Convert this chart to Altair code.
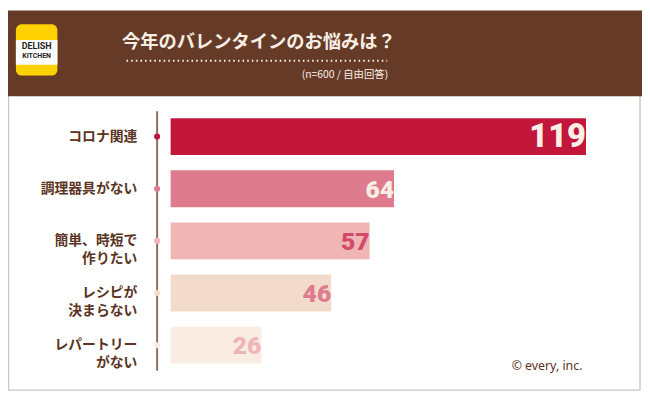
import altair as alt
import pandas as pd

# ---- data ----
categories = ["コロナ関連", "調理器具がない", "簡単、時短で作りたい", "レシピが決まらない", "レパートリーがない"]
labels = ["コロナ関連", "調理器具がない", "簡単、時短で\n作りたい", "レシピが\n決まらない", "レパートリー\nがない"]
values = [119, 64, 57, 46, 26]

title_text = "今年のバレンタインのお悩みは？"
subtitle_text = "(n=600 / 自由回答)"
credit_text = "© every, inc."

# ---- styles ----
bar_colors = ["#C2163A", "#DE7B8C", "#F0B6B6", "#F3DBCC", "#F9ECE3"]
num_colors = ["#FAEEE5", "#FAEEE5", "#D24A6A", "#DE7B8C", "#F0B3B8"]
BROWN = "#653A27"
CREAM = "#F8EEE5"
LABEL = "#5A3322"
W, H = 642, 387

df = pd.DataFrame({"cat": categories, "label": labels, "value": values})
one = pd.DataFrame({"a": [0]})

xs = alt.Scale(domain=[0, 119], range=[164.7, 585.3], nice=False)
ys = alt.Scale(domain=categories, range=[101.4, 365.4], paddingInner=0.293, paddingOuter=0.1465)
Y = alt.Y("cat:N", scale=ys, axis=None, sort=categories)

def deco_rect(x, x2, y, y2, **kw):
    return alt.Chart(one).mark_rect(**kw).encode(
        x=alt.value(x), x2=alt.value(x2), y=alt.value(y), y2=alt.value(y2))

def deco_text(txt, x, y, **kw):
    return alt.Chart(pd.DataFrame({"t": [txt]})).mark_text(**kw).encode(
        text="t:N", x=alt.value(x), y=alt.value(y))

frame = deco_rect(0.5, 640, 86, 384.5, fill="white", stroke="#CFC6BF", strokeWidth=1.5)
header = deco_rect(0, W, 0, 87, color=BROWN)
logo = deco_rect(8, 50, 14, 66, color="#FFD100", cornerRadius=6)
logo_white = deco_rect(8, 50, 30, 55, color="white")
logo_t1 = deco_text("DELISH", 29, 36.5, font="Roboto", fontWeight="bold", fontSize=9, color="#222222")
logo_t2 = deco_text("KITCHEN", 29, 46, font="Roboto", fontWeight="bold", fontSize=7, color="#222222")
title = deco_text(title_text, 254, 32, font="Noto Sans CJK JP", fontWeight="bold", fontSize=18.5, color=CREAM)
dots = alt.Chart(one).mark_rule(color=CREAM, strokeWidth=2, strokeDash=[1.6, 3.1]).encode(
    x=alt.value(120), x2=alt.value(384), y=alt.value(51))
subtitle = deco_text(subtitle_text, 385, 65, align="right", font="Noto Sans CJK JP", fontSize=10.5, color=CREAM)
credit = deco_text(credit_text, 510, 360, align="left", font="Noto Sans", fontSize=12.5, color=LABEL)

axis_line = alt.Chart(one).mark_rule(color="#8E6E62", strokeWidth=2).encode(
    x=alt.value(151), y=alt.value(102), y2=alt.value(365))

color_bar = alt.Color("cat:N", scale=alt.Scale(domain=categories, range=bar_colors), legend=None)

bars = alt.Chart(df).mark_bar().encode(
    x=alt.X("value:Q", scale=xs, axis=None), y=Y, color=color_bar)

points = alt.Chart(df).mark_circle(size=38, opacity=1).encode(
    x=alt.value(151), y=Y, color=color_bar)

cat_labels = alt.Chart(df).mark_text(
    align="right", baseline="middle", lineBreak="\n", lineHeight=18,
    font="Noto Sans CJK JP", fontWeight="bold", fontSize=14, color=LABEL
).encode(x=alt.value(131), y=Y, text="label:N")

nums = alt.Chart(df).transform_calculate(
    fs="datum.value > 100 ? 33 : 25",
    xo="datum.value > 100 ? -15 : -9"
).mark_text(
    align="right", baseline="middle", dy=1,
    font="Roboto", fontWeight=900
).encode(
    x=alt.X("value:Q", scale=xs, axis=None), y=Y, text="value:Q",
    size=alt.Size("fs:Q", scale=None, legend=None),
    xOffset=alt.XOffset("xo:Q", scale=None),
    color=alt.Color("cat:N", scale=alt.Scale(domain=categories, range=num_colors), legend=None),
)

chart = alt.layer(
    frame, header, logo, logo_white, logo_t1, logo_t2, title, dots, subtitle, credit,
    axis_line, bars, points, cat_labels, nums
).resolve_scale(color="independent").properties(
    width=W, height=H, padding=0, autosize=alt.AutoSizeParams(type="none"), background="white"
).configure_view(strokeWidth=0)

chart.save("out.html", embed_options={"renderer": "svg", "actions": False})
